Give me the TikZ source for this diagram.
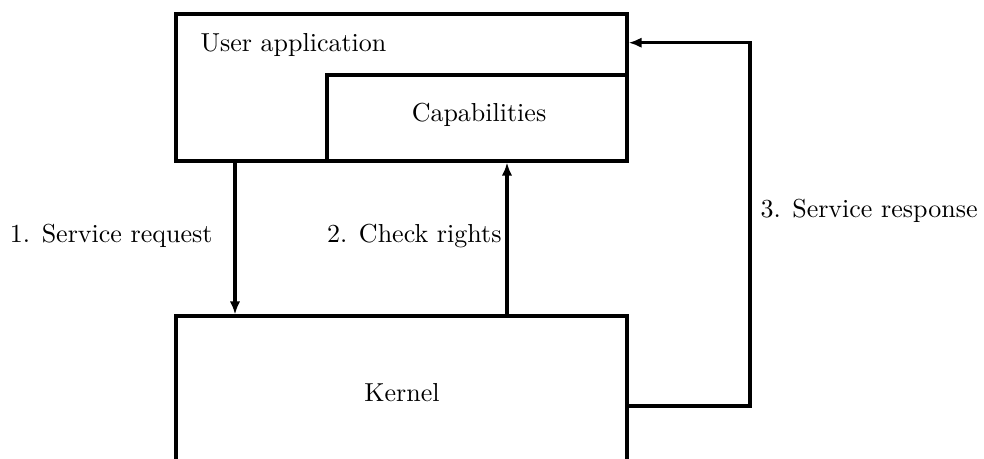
\documentclass[tikz,border=0pt]{standalone}
\usetikzlibrary{arrows.meta,fit,calc}
\begin{document}
\begin{tikzpicture}[x=0.3846pt,y=-0.3846pt,
  box/.style={draw,line width=1.2pt,inner sep=0pt},
  arr/.style={line width=1.2pt,-{Latex[length=5pt,width=4pt]}},
  lbl/.style={inner sep=0pt,font=\normalsize}]
\useasboundingbox (0,0) rectangle (984,459);
\node[box,fit={(176,14)(627,161)}] (ua) {};
\node[box,fill=white,fit={(327,75)(627,161)}] (cap) {};
\node[box,fit={(176,316)(627,470)}] (k) {};
\node[lbl,anchor=west] (uat) at (200,45) {User application};
\node[lbl] (capt) at (479,115) {Capabilities};
\node[lbl] (kt) at (402,393) {Kernel};
\coordinate (a1) at (235,0);
\coordinate (a2) at (507,0);
\coordinate (r3) at (0,406);
\coordinate (r3c) at (750,42.7);
\draw[arr] (ua.south -| a1) -- (k.north -| a1);
\draw[arr] (k.north -| a2) -- (cap.south -| a2);
\draw[arr] (k.east |- r3) -| (r3c) -- (ua.east |- r3c);
\node[lbl,anchor=east] (l1) at (213,236) {1. Service request};
\node[lbl,anchor=east] (l2) at (502,236) {2. Check rights};
\node[lbl,anchor=west] (l3) at (760,211) {3. Service response};
\end{tikzpicture}
\end{document}
